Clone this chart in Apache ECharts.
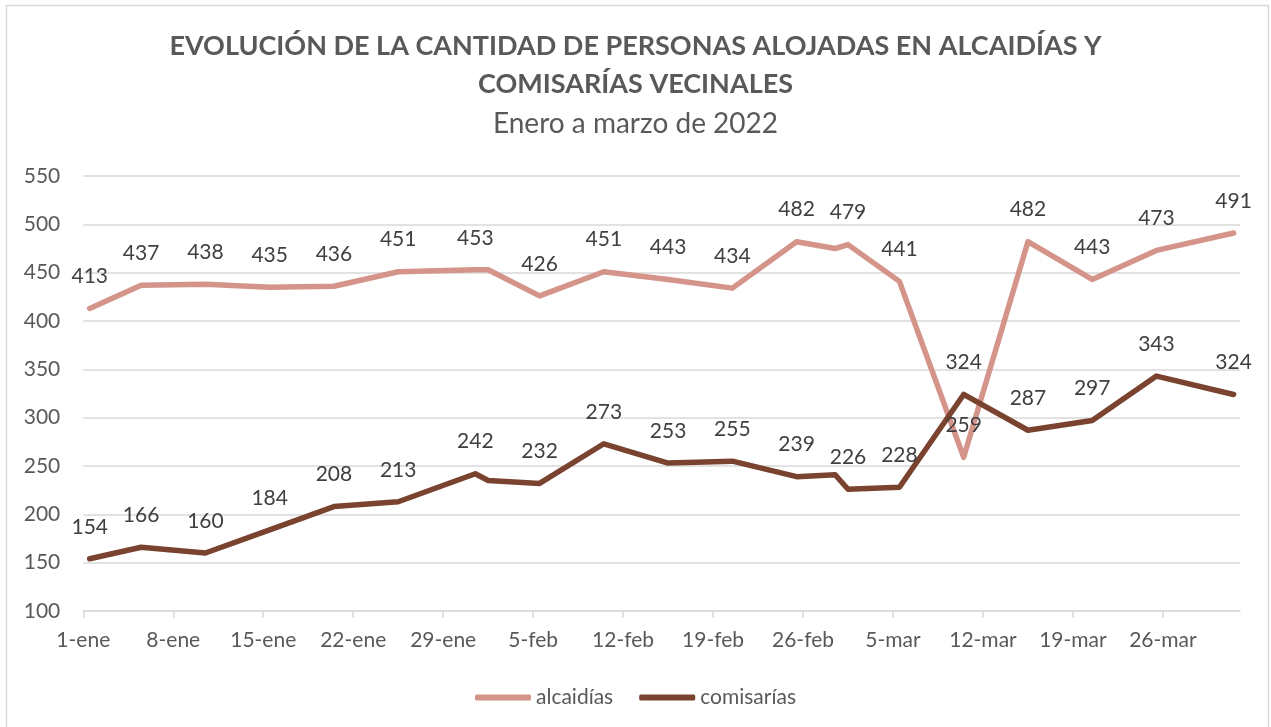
<!DOCTYPE html>
<html>
<head>
<meta charset="utf-8">
<title>Personas alojadas en alcaidías y comisarías</title>
<script src="https://cdn.jsdelivr.net/npm/echarts@6/dist/echarts.min.js"></script>
<style>
  html, body { margin: 0; padding: 0; background: #fff; }
  #chart { width: 1271px; height: 727px; }
</style>
</head>
<body>
<div id="chart"></div>
<script>
// fechas de los relevamientos (2022)
const fechas = [
  '2022-01-01', '2022-01-05', '2022-01-10', '2022-01-15', '2022-01-20', '2022-01-25',
  '2022-01-31', '2022-02-01', '2022-02-05', '2022-02-10', '2022-02-15', '2022-02-20',
  '2022-02-25', '2022-02-28', '2022-03-01', '2022-03-05', '2022-03-10', '2022-03-15',
  '2022-03-20', '2022-03-25', '2022-03-31'
];
const alcaidias = [413, 437, 438, 435, 436, 451, 453, 453, 426, 451, 443, 434, 482, 475, 479, 441, 259, 482, 443, 473, 491];
const comisarias = [154, 166, 160, 184, 208, 213, 242, 235, 232, 273, 253, 255, 239, 241, 226, 228, 324, 287, 297, 343, 324];
// puntos sin etiqueta en el original
const sinEtiqueta = ['2022-02-01', '2022-02-28'];
// marcas del eje horizontal
const fechasEje = [
  '2022-01-01', '2022-01-08', '2022-01-15', '2022-01-22', '2022-01-29', '2022-02-05',
  '2022-02-12', '2022-02-19', '2022-02-26', '2022-03-05', '2022-03-12', '2022-03-19', '2022-03-26'
];
const meses = ['ene', 'feb', 'mar', 'abr'];

const DIA = 86400000;
const inicio = Date.UTC(2022, 0, 1);
function dia(s) {
  const p = s.split('-').map(Number);
  return (Date.UTC(p[0], p[1] - 1, p[2]) - inicio) / DIA;
}
function etiquetaFecha(d) {
  const f = new Date(inicio + Math.round(d) * DIA);
  return f.getUTCDate() + '-' + meses[f.getUTCMonth()];
}
// Excel centra cada punto dentro de su día
function puntos(valores) {
  return fechas.map(function (f, i) {
    const item = { value: [dia(f) + 0.5, valores[i]] };
    if (sinEtiqueta.indexOf(f) >= 0) item.label = { show: false };
    return item;
  });
}
const ticks = fechasEje.map(dia);

const FONT = 'Lato';
const chart = echarts.init(document.getElementById('chart'));

function serie(nombre, valores, color) {
  return {
    name: nombre,
    type: 'line',
    data: puntos(valores),
    symbol: 'circle',
    symbolSize: 1,
    showSymbol: true,
    showAllSymbol: true,
    color: color,
    lineStyle: { width: 5.5, cap: 'round', join: 'round' },
    label: { show: true, position: 'top', distance: 21, fontFamily: FONT, fontSize: 21, color: '#404040' },
    labelLayout: { hideOverlap: false },
    emphasis: { disabled: true }
  };
}

const option = {
  backgroundColor: '#ffffff',
  textStyle: { fontFamily: FONT },
  graphic: [{
    type: 'rect',
    shape: { x: 6.5, y: 5.5, width: 1262, height: 760 },
    style: { fill: 'none', stroke: '#d9d9d9', lineWidth: 1.5 },
    silent: true
  }],
  title: [
    {
      text: 'EVOLUCIÓN DE LA CANTIDAD DE PERSONAS ALOJADAS EN ALCAIDÍAS Y',
      left: 'center', top: 33, padding: 0,
      textStyle: { fontFamily: FONT, fontSize: 27, fontWeight: 'bold', color: '#595959' }
    },
    {
      text: 'COMISARÍAS VECINALES',
      left: 'center', top: 71, padding: 0,
      textStyle: { fontFamily: FONT, fontSize: 27, fontWeight: 'bold', color: '#595959' }
    },
    {
      text: 'Enero a marzo de 2022',
      left: 'center', top: 110, padding: 0,
      textStyle: { fontFamily: FONT, fontSize: 28, fontWeight: 'normal', color: '#595959' }
    }
  ],
  legend: {
    top: 682,
    left: 'center',
    icon: 'roundRect',
    itemWidth: 56,
    itemHeight: 6,
    itemGap: 26,
    textStyle: { fontFamily: FONT, fontSize: 21, color: '#595959' },
    data: ['alcaidías', 'comisarías']
  },
  grid: { left: 83.3, right: 31, top: 176, bottom: 116 },
  xAxis: {
    type: 'value',
    min: 0,
    max: 90,
    axisLine: { lineStyle: { color: '#d9d9d9', width: 1.5 } },
    axisTick: { show: true, customValues: ticks, length: 7, lineStyle: { color: '#d9d9d9', width: 1.5 } },
    axisLabel: {
      customValues: ticks,
      formatter: etiquetaFecha,
      fontFamily: FONT, fontSize: 21, color: '#595959', margin: 19
    },
    splitLine: { show: false }
  },
  yAxis: {
    type: 'value',
    min: 100,
    max: 550,
    interval: 50,
    axisLine: { show: false },
    axisTick: { show: false },
    axisLabel: { fontFamily: FONT, fontSize: 21, color: '#595959', margin: 23 },
    splitLine: { lineStyle: { color: '#d9d9d9', width: 1.5 } }
  },
  series: [
    serie('alcaidías', alcaidias, '#d4948a'),
    serie('comisarías', comisarias, '#7a4330')
  ]
};
chart.setOption(option);
</script>
</body>
</html>
